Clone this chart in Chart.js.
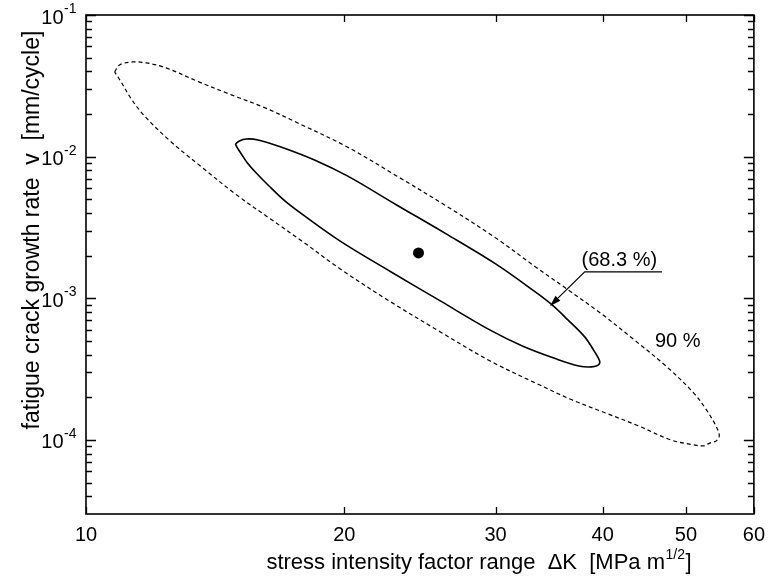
<!DOCTYPE html>
<html><head><meta charset="utf-8">
<script src="https://cdn.jsdelivr.net/npm/chart.js@4.4.1/dist/chart.umd.min.js"></script>
<style>html,body{margin:0;padding:0;background:#fff;}#wrap{width:774px;height:581px;}</style>
</head><body><div id="wrap"><canvas id="c" width="774" height="581"></canvas></div>
<script>
// ---- data ----
const xTicks = [10, 20, 30, 40, 50, 60];
const xTickLabels = ['10', '20', '30', '40', '50', '60'];
const yMajorTicks = [1e-4, 1e-3, 1e-2, 1e-1];
const yTickExponents = ['-4', '-3', '-2', '-1'];
const yMinorTicks = [4e-5, 5e-5, 6e-5, 7e-5, 8e-5, 9e-5,
  2e-4, 3e-4, 4e-4, 5e-4, 6e-4, 7e-4, 8e-4, 9e-4,
  2e-3, 3e-3, 4e-3, 5e-3, 6e-3, 7e-3, 8e-3, 9e-3,
  2e-2, 3e-2, 4e-2, 5e-2, 6e-2, 7e-2, 8e-2, 9e-2];

// 90 % confidence region (dashed)
const ci90K = [10.80, 10.94, 11.33, 11.76, 12.40, 13.54, 14.77, 16.17, 17.65, 20.16, 23.01, 26.28, 30.01, 33.38, 36.43, 39.87, 43.52, 47.51, 51.04, 52.83, 54.25, 54.68, 54.25, 53.39, 52.41, 51.04, 48.02, 43.98, 40.30, 36.82, 33.74, 29.54, 25.87, 22.65, 19.84, 17.84, 16.34, 14.93, 13.68, 12.53, 11.67, 11.27, 10.97, 10.80];
const ci90V = [0.0396, 0.0444, 0.0466, 0.0459, 0.0423, 0.0337, 0.0273, 0.0221, 0.0173, 0.0117, 7.31e-3, 4.49e-3, 2.67e-3, 1.67e-3, 1.15e-3, 7.76e-4, 5.09e-4, 3.28e-4, 2.15e-4, 1.63e-4, 1.24e-4, 1.07e-4, 9.85e-5, 9.54e-5, 9.09e-5, 9.23e-5, 1.00e-4, 1.26e-4, 1.55e-4, 1.92e-4, 2.45e-4, 3.62e-4, 5.79e-4, 9.43e-4, 1.59e-3, 2.54e-3, 3.69e-3, 5.45e-3, 8.32e-3, 0.0129, 0.0197, 0.0260, 0.0342, 0.0396];

// 68.3 % confidence region (solid)
const ci68K = [14.93, 15.09, 15.37, 15.87, 16.87, 18.46, 20.16, 23.01, 26.28, 30.01, 33.38, 34.92, 36.43, 38.11, 39.14, 39.66, 39.55, 38.83, 37.51, 35.28, 32.24, 29.54, 25.87, 22.65, 19.84, 17.84, 17.05, 16.34, 15.79, 15.42, 15.17, 15.01, 14.93];
const ci68V = [0.01229, 0.01290, 0.01333, 0.01312, 0.01171, 9.48e-3, 7.31e-3, 4.56e-3, 2.85e-3, 1.75e-3, 1.11e-3, 8.98e-4, 7.04e-4, 5.34e-4, 4.19e-4, 3.62e-4, 3.39e-4, 3.28e-4, 3.33e-4, 3.74e-4, 4.61e-4, 5.98e-4, 9.58e-4, 1.54e-3, 2.50e-3, 3.94e-3, 4.87e-3, 6.21e-3, 7.67e-3, 9.03e-3, 0.01045, 0.01152, 0.01229];

// point estimate
const estimateK = [24.4];
const estimateV = [2.09e-3];

// annotation texts
const innerLabel = '(68.3 %)';
const outerLabel = '90 %';
const xTitleMain = 'stress intensity factor range  \u0394K  [MPa m';
const xTitleSup = '1/2';
const xTitleEnd = ']';
const yTitle = 'fatigue crack growth rate  v  [mm/cycle]';

// annotation anchors (data units)
const innerLabelAnchor = {k0: 38.11, k1: 46.89, v: 1.536e-3, tipK: 34.73, tipV: 8.84e-4};
const outerLabelAnchor = {k: 48.92, v: 4.92e-4};

const zip = (a, b) => a.map((v, i) => ({x: v, y: b[i]}));
const FONT = '"Liberation Sans", Arial, sans-serif';

const decor = {
  id: 'decor',
  afterDraw(chart) {
    const {ctx, chartArea: a, scales: {x, y}} = chart;
    ctx.save();
    ctx.strokeStyle = '#000';
    ctx.fillStyle = '#000';
    // frame
    ctx.lineWidth = 1.6;
    ctx.strokeRect(a.left, a.top, a.right - a.left, a.bottom - a.top);
    // inward ticks
    ctx.lineWidth = 1.3;
    ctx.beginPath();
    yMajorTicks.forEach(v => {
      const p = Math.round(y.getPixelForValue(v)) + 0.5;
      ctx.moveTo(a.left, p); ctx.lineTo(a.left + 10, p);
      ctx.moveTo(a.right, p); ctx.lineTo(a.right - 10, p);
    });
    yMinorTicks.forEach(v => {
      const p = Math.round(y.getPixelForValue(v)) + 0.5;
      ctx.moveTo(a.left, p); ctx.lineTo(a.left + 6, p);
      ctx.moveTo(a.right, p); ctx.lineTo(a.right - 6, p);
    });
    xTicks.forEach(v => {
      const p = Math.round(x.getPixelForValue(v)) + 0.5;
      ctx.moveTo(p, a.bottom); ctx.lineTo(p, a.bottom - 7);
      ctx.moveTo(p, a.top); ctx.lineTo(p, a.top + 7);
    });
    ctx.stroke();

    // y tick labels 10^n
    ctx.textBaseline = 'middle';
    ctx.textAlign = 'left';
    yMajorTicks.forEach((v, i) => {
      const p = y.getPixelForValue(v);
      ctx.font = '14px ' + FONT;
      const supW = ctx.measureText(yTickExponents[i]).width;
      ctx.font = '20px ' + FONT;
      const baseW = ctx.measureText('10').width;
      const x0 = a.left - 10 - supW - baseW;
      ctx.fillText('10', x0, p + 3);
      ctx.font = '14px ' + FONT;
      ctx.fillText(yTickExponents[i], x0 + baseW + 0.5, p - 6);
    });

    // x title
    ctx.font = '22px ' + FONT;
    const w1 = ctx.measureText(xTitleMain).width;
    const w3 = ctx.measureText(xTitleEnd).width;
    ctx.font = '14px ' + FONT;
    const w2 = ctx.measureText(xTitleSup).width;
    const total = w1 + w2 + w3 + 1;
    const tx = 479 - total / 2;
    const ty = 563;
    ctx.font = '22px ' + FONT;
    ctx.fillText(xTitleMain, tx, ty);
    ctx.font = '14px ' + FONT;
    ctx.fillText(xTitleSup, tx + w1 + 0.5, ty - 8);
    ctx.font = '22px ' + FONT;
    ctx.fillText(xTitleEnd, tx + w1 + w2 + 1, ty);

    // y title
    ctx.save();
    ctx.translate(33, 230);
    ctx.rotate(-Math.PI / 2);
    ctx.textAlign = 'center';
    ctx.font = '23px ' + FONT;
    ctx.fillText(yTitle, 0, 0);
    ctx.restore();

    // inner label with underline and arrow
    const lx0 = x.getPixelForValue(innerLabelAnchor.k0);
    const lx1 = x.getPixelForValue(innerLabelAnchor.k1);
    const ly = y.getPixelForValue(innerLabelAnchor.v);
    const tipX = x.getPixelForValue(innerLabelAnchor.tipK);
    const tipY = y.getPixelForValue(innerLabelAnchor.tipV);
    ctx.lineWidth = 1.2;
    ctx.beginPath();
    ctx.moveTo(lx1, ly); ctx.lineTo(lx0, ly);
    const ang = Math.atan2(tipY - ly, tipX - lx0);
    const hl = 11, hw = 3.5;
    const bx = tipX - hl * Math.cos(ang), by = tipY - hl * Math.sin(ang);
    ctx.lineTo(bx, by);
    ctx.stroke();
    ctx.beginPath();
    ctx.moveTo(tipX, tipY);
    ctx.lineTo(bx + hw * Math.sin(ang), by - hw * Math.cos(ang));
    ctx.lineTo(bx - hw * Math.sin(ang), by + hw * Math.cos(ang));
    ctx.closePath();
    ctx.fill();
    ctx.font = '20px ' + FONT;
    ctx.textAlign = 'center';
    ctx.textBaseline = 'alphabetic';
    ctx.fillText(innerLabel, (lx0 + lx1) / 2 - 4, ly - 6);
    // outer label
    ctx.textBaseline = 'middle';
    ctx.fillText(outerLabel, x.getPixelForValue(outerLabelAnchor.k), y.getPixelForValue(outerLabelAnchor.v));
    ctx.restore();
  }
};

new Chart(document.getElementById('c'), {
  type: 'scatter',
  data: {
    datasets: [
      {label: '90 %', data: zip(ci90K, ci90V), showLine: true, borderColor: '#000', borderWidth: 1.2,
       borderDash: [4, 3], pointRadius: 0, tension: 0.35, fill: false},
      {label: '68.3 %', data: zip(ci68K, ci68V), showLine: true, borderColor: '#000', borderWidth: 1.6,
       pointRadius: 0, tension: 0.35, fill: false},
      {label: 'estimate', data: zip(estimateK, estimateV), showLine: false, pointRadius: 5.5,
       backgroundColor: '#000', borderColor: '#000', borderWidth: 0}
    ]
  },
  options: {
    responsive: false, animation: false, devicePixelRatio: 1,
    layout: {padding: {left: 0, right: 13, top: 15, bottom: 0}},
    plugins: {legend: {display: false}, tooltip: {enabled: false}},
    scales: {
      x: {
        type: 'logarithmic', position: 'bottom', min: 10, max: 60,
        afterBuildTicks: s => { s.ticks = xTicks.map(v => ({value: v})); },
        afterFit: s => { s.height = 67; },
        grid: {display: false, drawTicks: false}, border: {display: false},
        ticks: {padding: 9, color: '#000', font: {family: FONT, size: 20}, maxRotation: 0, autoSkip: false,
                callback: (v, i) => xTickLabels[i]}
      },
      y: {
        type: 'logarithmic', position: 'left', min: 3e-5, max: 0.1,
        afterBuildTicks: s => { s.ticks = yMajorTicks.map(v => ({value: v})); },
        afterFit: s => { s.width = 86; },
        grid: {display: false, drawTicks: false}, border: {display: false},
        ticks: {display: false}
      }
    }
  },
  plugins: [decor]
});
</script>
</body></html>
